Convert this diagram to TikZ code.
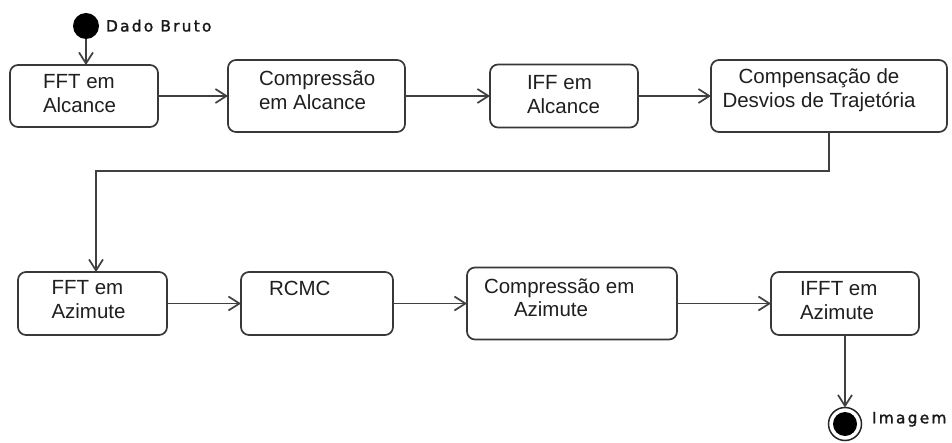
\documentclass[tikz,border=0pt]{standalone}
\usepackage{fontspec}
\setmainfont{Liberation Sans}
\newfontfamily\lblfont[LetterSpace=14,FakeBold=1.5]{DejaVu Sans}
\usetikzlibrary{arrows.meta}
\begin{document}
\begin{tikzpicture}[x=1pt,y=-1pt,
  box/.style={draw=black!78, line width=1.7pt, rounded corners=8pt, fill=white, inner sep=0pt, outer sep=0pt},
  txt/.style={inner sep=0pt, outer sep=0pt, font=\fontsize{20.5}{23.5}\selectfont, text=black!88},
  flow/.style={draw=black!75, line width=1.7pt, -{Straight Barb[length=11pt,width=14pt]}},
  lbl/.style={inner sep=0pt, outer sep=0pt, font=\lblfont\fontsize{15.5}{18}\selectfont, anchor=base west, text=black!90}]
\useasboundingbox[fill=white] (0,0) rectangle (952,443);

% top row boxes
\node[box, minimum width=148pt, minimum height=62pt] (b1) at (84,96) {};
\node[box, minimum width=177pt, minimum height=72pt] (b2) at (316.5,96) {};
\node[box, minimum width=148pt, minimum height=63pt] (b3) at (564,96) {};
\node[box, minimum width=236pt, minimum height=72pt] (b4) at (829,96) {};
% bottom row boxes
\node[box, minimum width=149pt, minimum height=63pt] (b5) at (92.5,303.5) {};
\node[box, minimum width=152pt, minimum height=63pt] (b6) at (317,303.5) {};
\node[box, minimum width=210pt, minimum height=72pt] (b7) at (572,303.5) {};
\node[box, minimum width=148pt, minimum height=63pt] (b8) at (845,303.5) {};

% texts
\node[txt, anchor=west, align=left] (t1) at (43,93.7) {FFT em\\Alcance};
\node[txt, anchor=west, align=left] (t2) at (259,90.5) {Compressão\\em Alcance};
\node[txt, anchor=west, align=left] (t3) at (527,94.6) {IFF em\\Alcance};
\node[txt, anchor=center, align=center] (t4) at (819,90) {Compensação de\\Desvios de Trajetória};
\node[txt, anchor=west, align=left] (t5) at (51.5,299.7) {FFT em\\Azimute};
\node[txt, anchor=west, align=left] (t6) at (269,288.6) {RCMC};
\node[txt, anchor=west, align=left] (t7) at (484,297.5) {Compressão em\\\hspace*{30pt}Azimute};
\node[txt, anchor=west, align=left] (t8) at (800,300.7) {IFFT em\\Azimute};

% start and end
\node[circle, fill=black, minimum size=26pt, inner sep=0pt, outer sep=0pt] (start) at (86,26) {};
\node[circle, draw=black!85, line width=1.5pt, fill=white, minimum size=33pt, inner sep=0pt, outer sep=0pt] (end) at (845,424) {};
\node[circle, fill=black, minimum size=24pt, inner sep=0pt] (endin) at (end.center) {};
\node[lbl] (l1) at (106,31.5) {Dado Bruto};
\node[lbl] (l2) at (872,423.3) {Imagem};

% connectors
\coordinate (turn) at (96,171);
\draw[flow] (start.south) -- (start.south |- b1.north);
\draw[flow] (b1) -- (b2);
\draw[flow] (b2) -- (b3);
\draw[flow] (b3) -- (b4);
\draw[flow] (b4.south) |- (turn) -- (turn |- b5.north);
\draw[flow] (b5) -- (b6);
\draw[flow] (b6) -- (b7);
\draw[flow] (b7) -- (b8);
\draw[flow] (b8.south) -- (end.north);
\end{tikzpicture}
\end{document}
